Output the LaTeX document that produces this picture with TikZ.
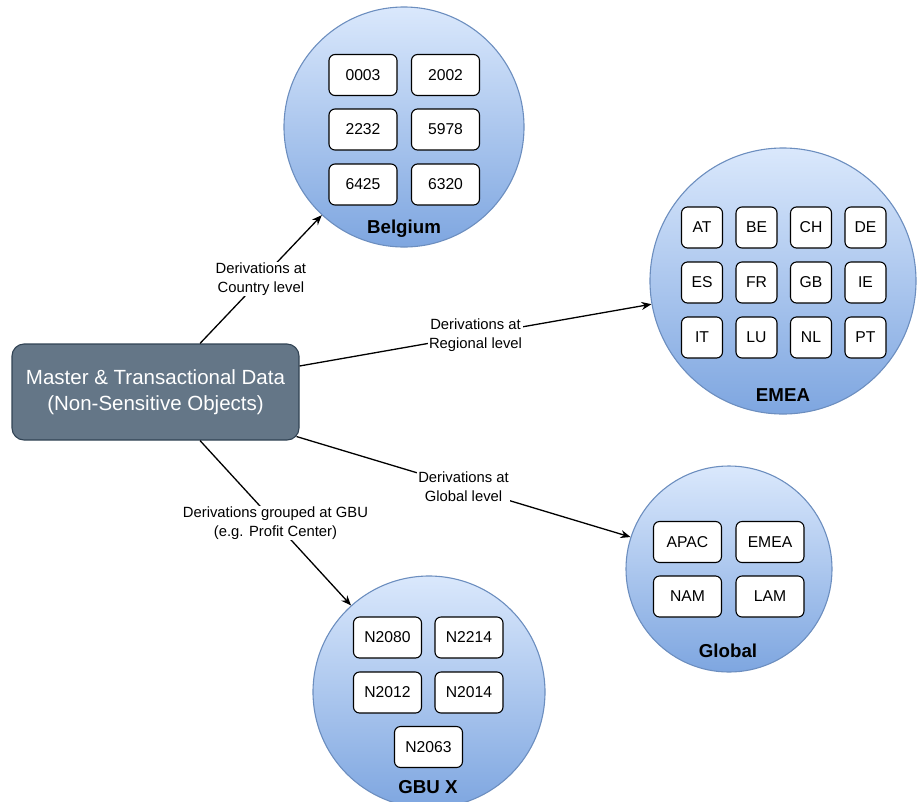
\documentclass[tikz,border=0pt]{standalone}
\usepackage{fontspec}
\setmainfont{Liberation Sans}
\usetikzlibrary{arrows.meta,calc}
\definecolor{cTop}{HTML}{DAE8FC}
\definecolor{cBot}{HTML}{7EA6E0}
\definecolor{cStroke}{HTML}{6C8EBF}
\definecolor{mainFill}{HTML}{647687}
\definecolor{mainStroke}{HTML}{314354}
\begin{document}
\begin{tikzpicture}[x=1pt,y=-1pt,
  group/.style={circle, draw=cStroke, line width=1.1pt, top color=cTop, bottom color=cBot, minimum size=#1, inner sep=0pt},
  item/.style={draw=black, fill=white, rounded corners=6pt, line width=1.1pt, minimum width=68pt, minimum height=41pt, inner sep=0pt, font=\fontsize{15.7}{18}\selectfont},
  smallitem/.style={item, minimum width=41pt},
  grouptitle/.style={font=\bfseries\fontsize{18.7}{22}\selectfont},
  link/.style={-{Stealth[length=10pt,width=8pt]}, line width=1.3pt},
  lbl/.style={fill=white, inner sep=1pt, align=center, font=\fontsize{14.8}{18.5}\selectfont},
]
\useasboundingbox (0,0) rectangle (918,801);

% groups
\node[group=240pt] (bel) at (404,127) {};
\node[group=266pt] (emea) at (783,281) {};
\node[group=206pt] (glob) at (729,569) {};
\node[group=232pt] (gbu) at (429,692) {};

% main box
\node[rounded corners=12pt, fill=mainFill, draw=mainStroke, line width=1.1pt, minimum width=287pt, minimum height=96pt, text=white, align=center, font=\fontsize{20.5}{26}\selectfont] (main) at (155.5,392) {Master \& Transactional Data\\(Non-Sensitive Objects)};

% Belgium
\node[item] (b1) at (363,75) {0003};
\node[item] (b2) at (445.5,75) {2002};
\node[item] (b3) at (363,129.5) {2232};
\node[item] (b4) at (445.5,129.5) {5978};
\node[item] (b5) at (363,184.5) {6425};
\node[item] (b6) at (445.5,184.5) {6320};
\node[grouptitle] (belt) at (404,229) {Belgium};

% EMEA
\node[smallitem] (e1) at (702,227.5) {AT};
\node[smallitem] (e2) at (756.5,227.5) {BE};
\node[smallitem] (e3) at (811,227.5) {CH};
\node[smallitem] (e4) at (865.5,227.5) {DE};
\node[smallitem] (e5) at (702,282.5) {ES};
\node[smallitem] (e6) at (756.5,282.5) {FR};
\node[smallitem] (e7) at (811,282.5) {GB};
\node[smallitem] (e8) at (865.5,282.5) {IE};
\node[smallitem] (e9) at (702,337.5) {IT};
\node[smallitem] (e10) at (756.5,337.5) {LU};
\node[smallitem] (e11) at (811,337.5) {NL};
\node[smallitem] (e12) at (865.5,337.5) {PT};
\node[grouptitle] (emeat) at (783,395) {EMEA};

% Global
\node[item] (g1) at (687.5,542) {APAC};
\node[item] (g2) at (770,542) {EMEA};
\node[item] (g3) at (687.5,596.5) {NAM};
\node[item] (g4) at (770,596.5) {LAM};
\node[grouptitle] (globt) at (728,651) {Global};

% GBU X
\node[item] (n1) at (387.5,637.5) {N2080};
\node[item] (n2) at (469,637.5) {N2214};
\node[item] (n3) at (387.5,692.5) {N2012};
\node[item] (n4) at (469,692.5) {N2014};
\node[item] (n5) at (428.5,747) {N2063};
\node[grouptitle] (gbut) at (428,787) {GBU X};

% connectors
\draw[link] ([xshift=44.5pt]main.north) -- node[lbl]{Derivations at\\Country level} (bel.227.7);
\draw[link] ([yshift=26pt]main.east) -- node[lbl]{Derivations at\\Regional level} (emea.190.3);
\draw[link] ([xshift=-3pt,yshift=4pt]main.south east) -- node[lbl]{Derivations at\\Global level} (glob.162.1);
\draw[link] ([xshift=44.5pt]main.south) -- node[lbl]{Derivations grouped at GBU\\(e.g. Profit Center)} (gbu.132);
\end{tikzpicture}
\end{document}
